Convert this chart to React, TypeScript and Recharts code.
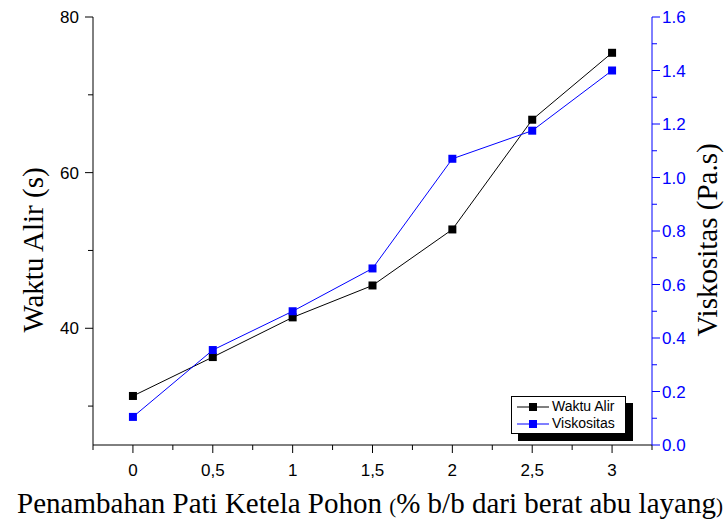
import { Legend, Line, LineChart, XAxis, YAxis } from "recharts"

const dosis = [0, 0.5, 1, 1.5, 2, 2.5, 3]
const waktuAlir = [31.3, 36.3, 41.4, 45.5, 52.7, 66.8, 75.4]
const viskositas = [0.105, 0.355, 0.5, 0.66, 1.07, 1.175, 1.4]
const seriesNames = ["Waktu Alir", "Viskositas"]

const xTicks = [-0.25, 0, 0.25, 0.5, 0.75, 1, 1.25, 1.5, 1.75, 2, 2.25, 2.5, 2.75, 3, 3.25]
const leftTicks = [30, 40, 50, 60, 70, 80]
const rightTicks = [0, 0.1, 0.2, 0.3, 0.4, 0.5, 0.6, 0.7, 0.8, 0.9, 1, 1.1, 1.2, 1.3, 1.4, 1.5, 1.6]

const data = dosis.map((d, i) => ({ dosis: d, waktu: waktuAlir[i], visk: viskositas[i] }))

const BLUE = "#0000ff"
const sans = "'Liberation Sans', Arial, sans-serif"
const serif = "'Liberation Serif', 'Times New Roman', serif"

const isMajor = (v: number, step: number) => Math.abs(v / step - Math.round(v / step)) < 1e-6

function BottomTick({ x, y, payload }: any) {
  const v = payload.value
  const major = isMajor(v, 0.5)
  return (
    <g>
      <line x1={x} x2={x} y1={y} y2={y + (major ? 8 : 5)} stroke="#000" />
      {major && (
        <text x={x} y={y + 31} textAnchor="middle" fontFamily={sans} fontSize={17} fill="#000">
          {String(v).replace(".", ",")}
        </text>
      )}
    </g>
  )
}

function TopTick({ x, y, payload }: any) {
  const major = isMajor(payload.value, 0.5)
  return <line x1={x} x2={x} y1={y} y2={y + (major ? 6 : 4)} stroke="#000" />
}

function LeftTick({ x, y, payload }: any) {
  const v = payload.value
  const major = isMajor(v, 20)
  return (
    <g>
      <line x1={x} x2={x - (major ? 8 : 5)} y1={y} y2={y} stroke="#000" />
      {major && (
        <text x={x - 14} y={y + 6} textAnchor="end" fontFamily={sans} fontSize={17} fill="#000">
          {v}
        </text>
      )}
    </g>
  )
}

function RightTick({ x, y, payload }: any) {
  const v = payload.value
  const major = isMajor(v, 0.2)
  return (
    <g>
      <line x1={x} x2={x + (major ? 8 : 5)} y1={y} y2={y} stroke={BLUE} />
      {major && (
        <text x={x + 10} y={y + 6} textAnchor="start" fontFamily={sans} fontSize={17} fill={BLUE}>
          {v.toFixed(1)}
        </text>
      )}
    </g>
  )
}

const squareDot = (color: string) => (props: any) => (
  <rect key={props.index} x={props.cx - 4} y={props.cy - 4} width={8} height={8} fill={color} />
)

function LegendBox({ payload }: any) {
  const items = [...(payload || [])].sort(
    (a: any, b: any) => seriesNames.indexOf(a.value) - seriesNames.indexOf(b.value)
  )
  return (
    <div
      style={{
        width: 115,
        height: 38,
        boxSizing: "border-box",
        border: "1px solid #000",
        background: "#fff",
        boxShadow: "7px 7px 0 #000",
        padding: "1px 0 0 5px",
        fontFamily: sans,
        fontSize: 14,
        lineHeight: "17px",
      }}
    >
      {items.map((p: any) => (
        <div key={p.value} style={{ display: "flex", alignItems: "center", whiteSpace: "nowrap" }}>
          <svg width={32} height={10} style={{ marginRight: 3 }}>
            <line x1={0} x2={32} y1={5} y2={5} stroke={p.color} />
            <rect x={12} y={1} width={8} height={8} fill={p.color} />
          </svg>
          {p.value}
        </div>
      ))}
    </div>
  )
}

export default function App() {
  return (
    <div style={{ position: "absolute", left: 0, top: 0, background: "#fff" }}>
      <LineChart width={725} height={525} data={data} margin={{ top: 17, right: 0, bottom: 0, left: 0 }}>
        <XAxis
          dataKey="dosis"
          type="number"
          domain={[-0.25, 3.25]}
          allowDataOverflow
          ticks={xTicks}
          interval={0}
          height={80}
          tickSize={0}
          tickMargin={0}
          tick={<BottomTick />}
          axisLine={{ stroke: "#000" }}
          label={{
            content: () => (
              <text x={370} y={513} textAnchor="middle" fontFamily={serif} fontSize={29} fill="#000">
                Penambahan Pati Ketela Pohon <tspan fontSize={21}>(</tspan>% b/b dari berat abu layang
                <tspan fontSize={21}>)</tspan>
              </text>
            ),
          }}
        />
        <XAxis
          xAxisId="top"
          orientation="top"
          type="number"
          domain={[-0.25, 3.25]}
          allowDataOverflow
          ticks={xTicks}
          interval={0}
          height={0}
          tickSize={0}
          tickMargin={0}
          tick={<TopTick />}
          axisLine={{ stroke: "#000" }}
        />
        <YAxis
          yAxisId="left"
          type="number"
          domain={[25, 80]}
          allowDataOverflow
          ticks={leftTicks}
          interval={0}
          width={93}
          tickSize={0}
          tickMargin={0}
          tick={<LeftTick />}
          axisLine={{ stroke: "#000" }}
          label={{
            content: ({ viewBox }: any) => {
              const cx = viewBox.x + 43
              const cy = viewBox.y + viewBox.height / 2 + 19
              return (
                <text x={cx} y={cy} transform={`rotate(-90 ${cx} ${cy})`} textAnchor="middle" fontFamily={serif} fontSize={29} fill="#000">
                  Waktu Alir (s)
                </text>
              )
            },
          }}
        />
        <YAxis
          yAxisId="right"
          orientation="right"
          type="number"
          domain={[0, 1.6]}
          allowDataOverflow
          ticks={rightTicks}
          interval={0}
          width={73}
          tickSize={0}
          tickMargin={0}
          tick={<RightTick />}
          axisLine={{ stroke: BLUE }}
          label={{
            content: ({ viewBox }: any) => {
              const cx = viewBox.x + 65
              const cy = viewBox.y + viewBox.height / 2 + 9
              return (
                <text x={cx} y={cy} transform={`rotate(-90 ${cx} ${cy})`} textAnchor="middle" fontFamily={serif} fontSize={29} fill="#000">
                  Viskositas (Pa.s)
                </text>
              )
            },
          }}
        />
        <Legend
          layout="vertical"
          align="center"
          verticalAlign="middle"
          content={<LegendBox />}
          wrapperStyle={{ left: 511, top: 396, width: "auto", height: "auto" }}
        />
        <Line
          yAxisId="left"
          dataKey="waktu"
          name={seriesNames[0]}
          stroke="#000"
          strokeWidth={1}
          dot={squareDot("#000")}
          activeDot={false}
          isAnimationActive={false}
        />
        <Line
          yAxisId="right"
          dataKey="visk"
          name={seriesNames[1]}
          stroke={BLUE}
          strokeWidth={1}
          dot={squareDot(BLUE)}
          activeDot={false}
          isAnimationActive={false}
        />
      </LineChart>
    </div>
  )
}
